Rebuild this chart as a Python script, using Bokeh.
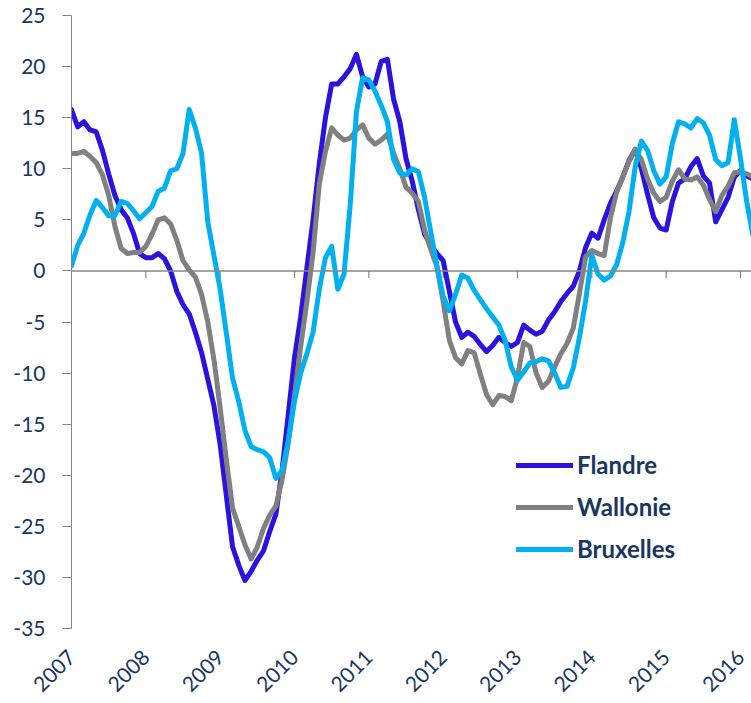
import math
from bokeh.plotting import figure
from bokeh.models import Range1d, FixedTicker, Span, Legend, LegendItem
from bokeh.embed import file_html
from bokeh.resources import INLINE

start_year = 2007
years = [2007, 2008, 2009, 2010, 2011, 2012, 2013, 2014, 2015, 2016]
y_ticks = [25, 20, 15, 10, 5, 0, -5, -10, -15, -20, -25, -30, -35]

flandre = [
    15.8, 14.1, 14.6, 13.8, 13.6, 11.8, 9.5, 7.4, 6.0, 5.2, 3.7, 1.7,
    1.3, 1.3, 1.7, 1.2, 0.0, -2.0, -3.3, -4.2, -6.0, -8.0, -10.6, -13.2,
    -17.0, -22.0, -27.0, -28.8, -30.3, -29.4, -28.3, -27.4, -25.5, -23.8, -19.5, -14.0,
    -8.5, -4.5, 0.3, 5.0, 10.5, 15.0, 18.3, 18.3, 19.0, 19.8, 21.2, 19.0,
    18.0, 18.3, 20.5, 20.7, 16.8, 14.6, 11.0, 8.8, 6.0, 3.6, 2.5, 1.7,
    1.0, -2.0, -5.0, -6.5, -6.0, -6.4, -7.2, -7.9, -7.3, -6.5, -7.0, -7.4,
    -7.0, -5.3, -5.8, -6.2, -5.9, -4.8, -4.0, -3.0, -2.2, -1.5, 0.0, 2.3,
    3.7, 3.2, 5.0, 6.6, 7.8, 9.2, 10.8, 11.9, 10.0, 7.5, 5.2, 4.2,
    4.0, 6.8, 8.6, 9.0, 10.2, 11.0, 9.3, 8.6, 4.8, 6.0, 7.2, 9.2,
    9.8, 9.3, 9.0,
]
wallonie = [
    11.5, 11.5, 11.7, 11.2, 10.6, 9.4, 7.4, 4.4, 2.2, 1.7, 1.8, 1.8,
    2.4, 3.6, 5.0, 5.2, 4.6, 3.0, 1.0, 0.1, -0.6, -2.3, -5.0, -8.7,
    -13.4, -18.5, -23.2, -25.0, -26.8, -28.2, -27.0, -25.2, -23.9, -23.0, -20.4, -16.8,
    -12.2, -7.4, -3.0, 1.8, 8.5, 11.7, 14.0, 13.3, 12.8, 13.0, 13.8, 14.3,
    13.0, 12.4, 12.8, 13.4, 11.5, 10.0, 8.2, 7.6, 6.8, 4.0, 2.1, 0.4,
    -3.0, -6.8, -8.5, -9.1, -7.8, -8.0, -10.1, -12.1, -13.1, -12.2, -12.3, -12.7,
    -10.4, -7.0, -7.4, -10.0, -11.4, -10.8, -9.4, -8.1, -7.1, -5.6, -2.2, 1.4,
    2.0, 1.7, 1.5, 5.2, 7.7, 9.2, 10.7, 11.9, 10.9, 9.0, 7.6, 6.8,
    7.2, 8.8, 9.9, 9.0, 8.9, 9.2, 8.4, 7.0, 5.8, 7.4, 8.3, 9.6,
    9.7, 9.5, 9.2,
]
bruxelles = [
    0.5, 2.5, 3.7, 5.5, 6.9, 6.2, 5.4, 5.4, 6.8, 6.6, 5.9, 5.1,
    5.7, 6.3, 7.8, 8.1, 9.8, 10.0, 11.5, 15.8, 14.0, 11.5, 4.8, 1.5,
    -1.8, -6.1, -10.5, -12.8, -15.6, -17.2, -17.5, -17.7, -18.3, -20.3, -19.5, -16.6,
    -12.7, -10.0, -8.1, -6.0, -1.8, 1.3, 2.4, -1.8, -0.3, 6.5, 15.6, 18.9,
    18.7, 17.6, 16.2, 14.6, 10.9, 9.6, 9.4, 10.0, 9.7, 7.2, 3.8, 0.5,
    -2.5, -3.9, -2.3, -0.4, -0.7, -1.9, -2.8, -3.7, -4.5, -5.3, -6.8, -9.4,
    -10.7, -9.9, -9.0, -8.9, -8.6, -8.8, -10.0, -11.4, -11.3, -9.5, -6.5, -2.9,
    1.5, -0.3, -0.9, -0.5, 0.6, 2.8, 5.8, 10.2, 12.7, 11.8, 9.8, 8.5,
    9.2, 12.5, 14.6, 14.4, 14.0, 14.9, 14.5, 13.3, 10.9, 10.3, 10.6, 14.8,
    11.0, 6.8, 3.5,
]

series_names = ["Flandre", "Wallonie", "Bruxelles"]
series_values = [flandre, wallonie, bruxelles]
series_colors = ["#2A12E0", "#808080", "#00B0F0"]

months = [start_year + i / 12 for i in range(len(flandre))]

TEXT = "#17375E"
AXIS = "#868686"
FONT = "Lato"

p = figure(
    width=751, height=702,
    x_range=Range1d(2007, 2016.148), y_range=Range1d(-35, 25),
    output_backend="svg", toolbar_location=None,
    min_border_left=71, min_border_top=15, min_border_right=0, min_border_bottom=74,
)
p.outline_line_color = None
p.xgrid.visible = False
p.ygrid.visible = False
p.background_fill_color = "white"

# y axis
p.yaxis.ticker = FixedTicker(ticks=y_ticks)
p.yaxis.axis_line_color = AXIS
p.yaxis.major_tick_line_color = AXIS
p.yaxis.major_tick_out = 9
p.yaxis.major_tick_in = 0
p.yaxis.minor_tick_line_color = None
p.yaxis.major_label_standoff = 17
p.yaxis.major_label_text_font = FONT
p.yaxis.major_label_text_font_size = "21px"
p.yaxis.major_label_text_color = TEXT
p.yaxis.major_label_overrides = {v: str(v) for v in y_ticks}

# x axis (labels only, at the bottom)
p.xaxis.ticker = FixedTicker(ticks=years)
p.xaxis.axis_line_color = None
p.xaxis.major_tick_line_color = None
p.xaxis.minor_tick_line_color = None
p.xaxis.major_label_orientation = math.pi / 4
p.xaxis.major_label_standoff = 19
p.xaxis.major_label_text_font = FONT
p.xaxis.major_label_text_font_size = "21px"
p.xaxis.major_label_text_color = TEXT
p.xaxis.major_label_overrides = {y: str(y) for y in years}

# zero line with year ticks
p.add_layout(Span(location=0, dimension="width", line_color=AXIS, line_width=1.5))
p.segment(x0=years[1:], y0=[0] * (len(years) - 1), x1=years[1:], y1=[-0.7] * (len(years) - 1),
          line_color=AXIS, line_width=1.2)

items = []
for name, vals, col in zip(series_names, series_values, series_colors):
    r = p.line(months, vals, line_color=col, line_width=5, line_join="round", line_cap="round")
    items.append(LegendItem(label=name, renderers=[r]))

legend = Legend(
    items=items, location=(445, 65),
    padding=0, margin=0, border_line_color=None, background_fill_alpha=0,
    glyph_width=57, glyph_height=28, label_height=28, spacing=13, label_standoff=4,
    label_text_font=FONT, label_text_font_style="bold", label_text_font_size="24px",
    label_text_color=TEXT,
)
p.add_layout(legend)

open("out.html", "w").write(file_html(p, INLINE))
